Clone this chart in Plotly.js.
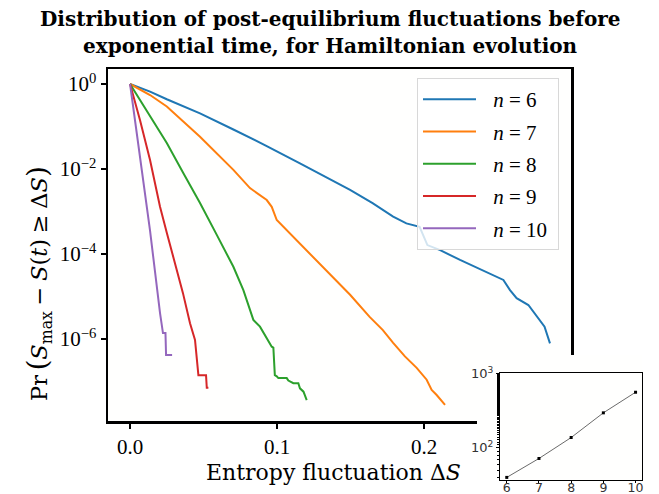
<!DOCTYPE html>
<html><head><meta charset="utf-8">
<script src="https://cdn.plot.ly/plotly-3.0.1.min.js"></script>
<style>html,body{margin:0;padding:0;background:#fff;}#chart{width:659px;height:494px;}</style>
</head><body><div id="chart"></div>
<script>
// ---- data ----
const seriesLabels = ['<i>n</i> = 6', '<i>n</i> = 7', '<i>n</i> = 8', '<i>n</i> = 9', '<i>n</i> = 10'];
const colors = ['#1f77b4', '#ff7f0e', '#2ca02c', '#d62728', '#9467bd'];

const dS6 = [0, 0.0136, 0.025, 0.0476, 0.0703, 0.093, 0.1156, 0.138, 0.1497, 0.165, 0.179, 0.188, 0.197, 0.2023, 0.211, 0.2245, 0.238, 0.247, 0.254, 0.2585, 0.263, 0.271, 0.2766, 0.282, 0.2857];
const p6  = [1, 0.661, 0.437, 0.204, 0.0851, 0.0347, 0.0135, 5.37e-3, 3.24e-3, 1.58e-3, 7.59e-4, 5.25e-4, 4.37e-4, 1.62e-4, 1.23e-4, 7.24e-5, 4.37e-5, 3.24e-5, 2.45e-5, 1.41e-5, 9.1e-6, 6.3e-6, 3.39e-6, 1.95e-6, 7.9e-7];

const dS7 = [0, 0.0136, 0.025, 0.0476, 0.0703, 0.0816, 0.093, 0.0964, 0.0998, 0.1043, 0.1156, 0.127, 0.138, 0.1497, 0.163, 0.172, 0.179, 0.187, 0.195, 0.2018, 0.2052, 0.2086, 0.2143];
const p7  = [1, 0.55, 0.295, 0.0575, 9.55e-3, 3.55e-3, 1.86e-3, 1.29e-3, 6.3e-4, 4.37e-4, 1.78e-4, 7.24e-5, 2.95e-5, 1.1e-5, 3.31e-6, 1.62e-6, 8.1e-7, 3.89e-7, 2.09e-7, 1.1e-7, 6.3e-8, 4.8e-8, 2.8e-8];

const dS8 = [0, 0.0136, 0.025, 0.0363, 0.0476, 0.059, 0.0703, 0.0771, 0.0839, 0.0884, 0.093, 0.0964, 0.0975, 0.0985, 0.0998, 0.1009, 0.1066, 0.1077, 0.1111, 0.1145, 0.1156, 0.118, 0.1202];
const p8  = [1, 0.17, 0.0407, 7.94e-3, 1.58e-3, 2.82e-4, 5.01e-5, 1.41e-5, 2.82e-6, 1.95e-6, 1.05e-6, 6.6e-7, 6.3e-7, 1.41e-7, 1.32e-7, 1.2e-7, 1.2e-7, 1.05e-7, 9.1e-8, 9.1e-8, 6.9e-8, 5.75e-8, 3.63e-8];

const dS9 = [0, 0.0068, 0.0136, 0.0204, 0.025, 0.0306, 0.036, 0.0408, 0.0431, 0.0442, 0.0465, 0.0517, 0.0522, 0.0533];
const p9  = [1, 0.141, 0.0162, 1.29e-3, 3.16e-4, 6.0e-5, 1.2e-5, 2.34e-6, 1.38e-6, 9.5e-7, 1.41e-7, 1.41e-7, 7.1e-8, 7.1e-8];

const dS10 = [0, 0.0068, 0.0136, 0.0204, 0.0224, 0.0241, 0.0245, 0.0286];
const p10  = [1, 0.0195, 3.55e-4, 4.07e-6, 1.38e-6, 1.38e-6, 4.17e-7, 4.17e-7];

const insetN = [6, 7, 8, 9, 10];
const insetT = [40, 72, 138, 297, 563];

const xTickVals = [0, 0.1, 0.2];
const xTickText = ['0.0', '0.1', '0.2'];
const yTickVals = [1, 1e-2, 1e-4, 1e-6];
const yTickText = ['10<sup>0</sup>', '10<sup>−2</sup>', '10<sup>−4</sup>', '10<sup>−6</sup>'];
const insetXTicks = [6, 7, 8, 9, 10];
const insetYTickVals = [100, 1000];
const insetYTickText = ['10<sup>2</sup>', '10<sup>3</sup>'];

const titleLine1 = '<b>Distribution of post-equilibrium fluctuations before</b>';
const titleLine2 = '<b>exponential time, for Hamiltonian evolution</b>';
const xTitle = 'Entropy fluctuation Δ<i>S</i>';
const yTitle = 'Pr\u2009<span style="font-size:28px">(</span><i>S</i><sub>max</sub>\u2005−\u2005<i>S</i>(<i>t</i>)\u2005≥\u2005Δ<i>S</i><span style="font-size:28px">)</span>';

// ---- layout helpers (pixel box of the paper area) ----
const L = 108, R = 642, T = 69, B = 480;
const px = x => (x - L) / (R - L);
const py = y => (B - y) / (B - T);
const serif = 'Liberation Serif, DejaVu Serif, serif';
const serif2 = 'DejaVu Serif, serif';

const xs = [dS6, dS7, dS8, dS9, dS10];
const ys = [p6, p7, p8, p9, p10];
const traces = xs.map((x, i) => ({
  x: x, y: ys[i], type: 'scatter', mode: 'lines',
  name: '\u2002\u200a' + seriesLabels[i] + '\u2005',
  legendgroup: 'g' + i,
  line: {color: colors[i], width: 2}, xaxis: 'x', yaxis: 'y'
}));
// cover subplot (white background, like a pasted image)
traces.push({x: [], y: [], type: 'scatter', mode: 'lines', xaxis: 'x2', yaxis: 'y2', showlegend: false, hoverinfo: 'skip'});
// inset
traces.push({
  x: insetN, y: insetT, type: 'scatter', mode: 'lines+markers', xaxis: 'x3', yaxis: 'y3', showlegend: false,
  line: {color: '#444', width: 0.8}, marker: {symbol: 'square', size: 3, color: '#000'}
});

const layout = {
  width: 659, height: 494,
  margin: {l: L, r: 659 - R, t: T, b: 494 - B, pad: 0},
  paper_bgcolor: '#ffffff', plot_bgcolor: '#fffffe',
  showlegend: true,
  xaxis: {
    domain: [0, px(571)], anchor: 'y', range: [-0.015, 0.3],
    tickmode: 'array', tickvals: xTickVals, ticktext: xTickText,
    ticks: 'outside', ticklen: 5, tickwidth: 2, tickcolor: '#000',
    tickfont: {family: serif, size: 21, color: '#000'},
    showline: true, linewidth: 2.5, linecolor: '#000', mirror: true,
    showgrid: false, zeroline: false
  },
  yaxis: {
    domain: [py(421), 1], anchor: 'x', type: 'log', range: [-7.93, 0.353],
    tickmode: 'array', tickvals: yTickVals, ticktext: yTickText,
    ticks: 'outside', ticklen: 5, tickwidth: 2, tickcolor: '#000',
    tickfont: {family: serif, size: 21, color: '#000'},
    showline: true, linewidth: 2.5, linecolor: '#000', mirror: true,
    showgrid: false, zeroline: false
  },
  xaxis2: {domain: [px(477), 1], anchor: 'y2', range: [0, 1], visible: false},
  yaxis2: {domain: [0, py(355)], anchor: 'x2', range: [0, 1], visible: false},
  xaxis3: {
    domain: [px(500), 1], anchor: 'y3', range: [5.79, 10.2],
    tickmode: 'array', tickvals: insetXTicks,
    ticks: 'outside', ticklen: 2, tickwidth: 1, tickcolor: '#000',
    ticklabelstandoff: -6,
    tickfont: {family: 'DejaVu Sans, sans-serif', size: 12.5, color: '#333'},
    showline: true, linewidth: 1, linecolor: '#000', mirror: true,
    showgrid: false, zeroline: false
  },
  yaxis3: {
    domain: [0, py(373)], anchor: 'x3', type: 'log', range: [1.567, 3.01],
    tickmode: 'array', tickvals: insetYTickVals, ticktext: insetYTickText,
    ticks: 'outside', ticklen: 3, tickwidth: 1, tickcolor: '#000',
    minor: {ticks: 'outside', ticklen: 2, tickwidth: 1, tickcolor: '#000', showgrid: false},
    tickfont: {family: 'DejaVu Sans, sans-serif', size: 13, color: '#333'},
    showline: true, linewidth: 1, linecolor: '#000', mirror: true,
    showgrid: false, zeroline: false
  },
  legend: {
    x: px(559), xanchor: 'right', y: py(78), yanchor: 'top',
    bgcolor: 'rgba(255,255,255,0.8)', bordercolor: '#d8d8d8', borderwidth: 1,
    font: {family: serif, size: 21, color: '#000'},
    traceorder: 'grouped', tracegroupgap: 2, itemwidth: 53
  },
  annotations: [
    {text: titleLine1, xref: 'paper', yref: 'paper', x: px(330), y: py(19),
     xanchor: 'center', yanchor: 'middle', showarrow: false, font: {family: serif2, size: 20, color: '#000'}},
    {text: titleLine2, xref: 'paper', yref: 'paper', x: px(330), y: py(46),
     xanchor: 'center', yanchor: 'middle', showarrow: false, font: {family: serif2, size: 20, color: '#000'}},
    {text: xTitle, xref: 'paper', yref: 'paper', x: px(333), y: py(472),
     xanchor: 'center', yanchor: 'middle', showarrow: false, font: {family: serif2, size: 22, color: '#000'}},
    {text: yTitle, xref: 'paper', yref: 'paper', x: px(38), y: py(284),
     xanchor: 'center', yanchor: 'middle', textangle: -90, showarrow: false, font: {family: serif2, size: 22.5, color: '#000'}}
  ]
};

Plotly.newPlot('chart', traces, layout, {displayModeBar: false, staticPlot: true});
</script>
</body></html>
